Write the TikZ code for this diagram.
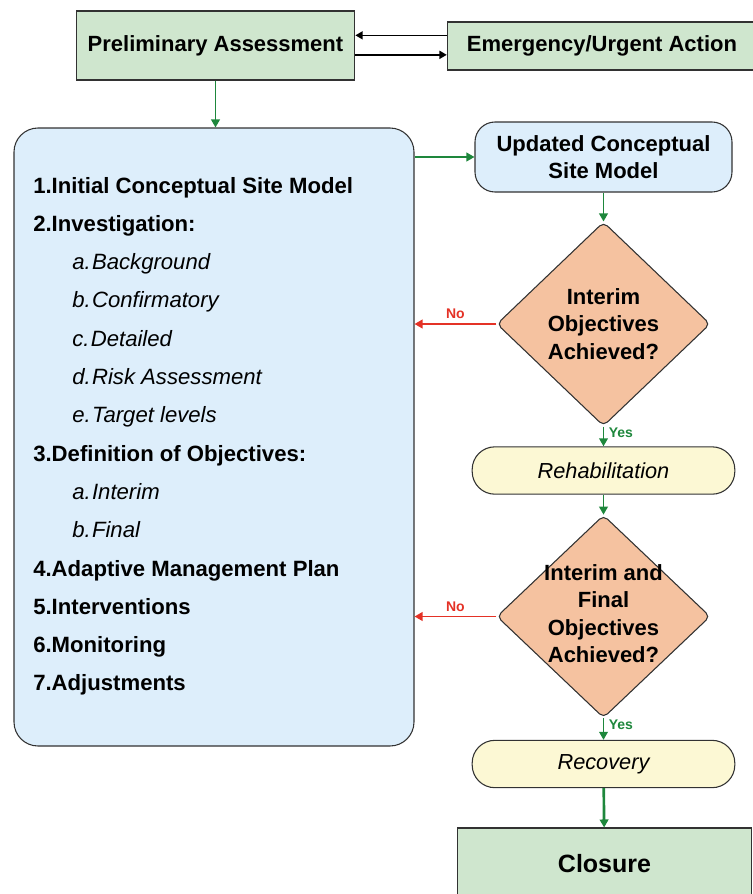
\documentclass[tikz,border=0pt]{standalone}
\usepackage{fontspec}
\setmainfont{Liberation Sans}
\usetikzlibrary{arrows.meta, positioning, calc, shapes.geometric}
\definecolor{boxgreen}{RGB}{207,230,206}
\definecolor{boxblue}{RGB}{221,238,251}
\definecolor{boxyellow}{RGB}{252,248,212}
\definecolor{boxorange}{RGB}{245,194,160}
\definecolor{edge}{RGB}{50,50,50}
\definecolor{okgreen}{RGB}{30,135,60}
\definecolor{nored}{RGB}{228,50,38}
\tikzset{
  stage/.style={draw=edge, fill=boxgreen, line width=0.8pt, align=center,
                font=\fontsize{16.5}{20}\selectfont\bfseries},
  panel/.style={draw=edge, fill=boxblue, line width=0.8pt, rounded corners=18pt},
  update/.style={draw=edge, fill=boxblue, line width=0.8pt, rounded corners=15pt,
                 align=center, font=\fontsize{16.5}{20.25}\selectfont\bfseries},
  decision/.style={diamond, draw=edge, fill=boxorange, line width=0.8pt,
                   rounded corners=4pt, inner sep=0pt},
  dectext/.style={align=center, font=\fontsize{16.5}{20.6}\selectfont\bfseries},
  outcome/.style={draw=edge, fill=boxyellow, line width=0.8pt, rounded corners=17pt,
                  minimum width=197pt, minimum height=35.5pt,
                  font=\fontsize{16.3}{19}\selectfont\itshape},
  listbold/.style={anchor=base west, inner sep=0pt, font=\fontsize{16.6}{20}\selectfont\bfseries},
  listital/.style={anchor=base west, inner sep=0pt, font=\fontsize{16.6}{20}\selectfont\itshape},
  flow/.style={-{Triangle[length=6pt, width=6.5pt]}, okgreen, line width=1.3pt},
  back/.style={-{Triangle[length=5.5pt, width=6pt]}, black, line width=1.2pt},
  nolink/.style={-{Triangle[length=6pt, width=6.5pt]}, nored, line width=1.3pt},
  nolabel/.style={font=\fontsize{10.5}{12}\selectfont\bfseries, text=nored},
  yeslabel/.style={font=\fontsize{10.5}{12}\selectfont\bfseries, text=okgreen}
}
\begin{document}
\begin{tikzpicture}[x=0.75pt, y=-0.75pt]
  \useasboundingbox (0,0) rectangle (753,894);
  % top row
  \node[stage, minimum width=209pt, minimum height=51.75pt] (prelim) at (215.5,45.5)
    {Preliminary Assessment};
  \node[stage, minimum width=232pt, minimum height=36pt] (emerg) at (602,46)
    {Emergency/Urgent Action};
  \draw[back] ([yshift=8pt]emerg.west) -- ([yshift=8pt]emerg.west -| prelim.east);
  \draw[back] ([yshift=-7pt]prelim.east) -- ([yshift=-7pt]prelim.east -| emerg.west);

  % left panel with the list of steps
  \node[panel, minimum width=300pt, minimum height=463.5pt] (big) at (214,437) {};
  \foreach \i/\t in {0/1.Initial Conceptual Site Model, 1/2.Investigation:,
                     7/3.Definition of Objectives:, 10/4.Adaptive Management Plan,
                     11/5.Interventions, 12/6.Monitoring, 13/7.Adjustments}
    \node[listbold] (item\i) at (33,193+38.3*\i) {\t};
  \foreach \i/\t in {2/a.\kern1pt Background, 3/b.\kern1pt Confirmatory, 4/c.\kern1pt Detailed,
                     5/d.\kern1pt Risk Assessment, 6/e.\kern1pt Target levels,
                     8/a.\kern1pt Interim, 9/b.\kern1pt Final}
    \node[listital] (item\i) at (72,193+38.3*\i) {\t};
  \draw[flow] (prelim.south) -- (prelim.south |- big.north);

  % right column
  \node[update, minimum width=192.75pt, minimum height=52.5pt] (upd) at (603.5,157)
    {Updated Conceptual\\Site Model};
  \node[decision, minimum width=160pt, minimum height=153pt,
        label={[dectext]center:{Interim\\Objectives\\Achieved?}}] (dia1) at (603.5,324) {};
  \node[outcome] (rehab) at (603.5,470.5) {Rehabilitation};
  \node[decision, minimum width=160pt, minimum height=152pt,
        label={[dectext, yshift=2pt]center:{Interim and\\Final\\Objectives\\Achieved?}}] (dia2) at (603.5,616.5) {};
  \node[outcome] (recov) at (603.5,764) {Recovery};
  \node[stage, minimum width=220pt, minimum height=54pt,
        font=\fontsize{18.75}{22}\selectfont\bfseries] (closure) at (604.5,864) {Closure};

  \draw[flow] (upd.west -| big.east) -- (upd.west);
  \draw[flow] (upd) -- (dia1);
  \draw[nolink] (dia1.west) -- node[nolabel, above] {No} (dia1.west -| big.east);
  \draw[flow] (dia1) -- node[yeslabel, right, pos=0.3] {Yes} (rehab);
  \draw[flow] (rehab) -- (dia2);
  \draw[nolink] (dia2.west) -- node[nolabel, above] {No} (dia2.west -| big.east);
  \draw[flow] (dia2) -- node[yeslabel, right, pos=0.3] {Yes} (recov);
  \draw[flow, line width=2pt] (recov) -- (closure);
\end{tikzpicture}
\end{document}
